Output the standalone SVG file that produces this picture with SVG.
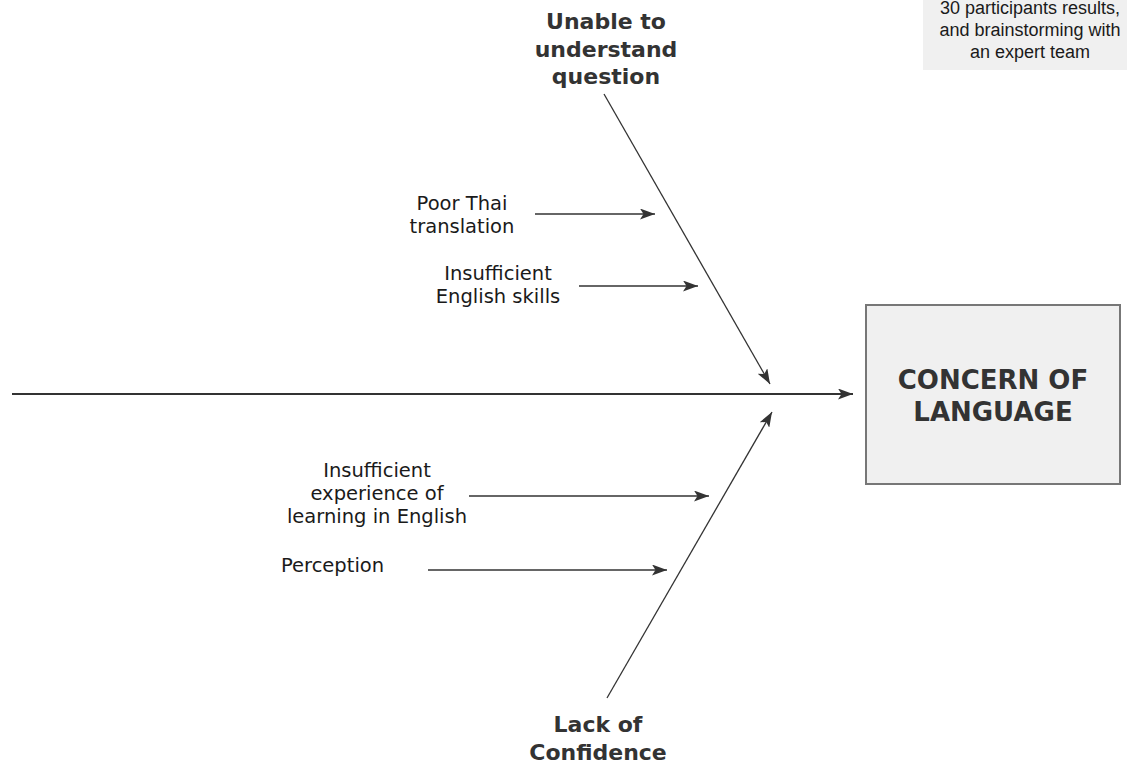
<svg xmlns="http://www.w3.org/2000/svg" width="1127" height="763" viewBox="0 0 1127 763">
<style>
.t{font-family:"DejaVu Sans",Verdana,sans-serif;font-size:19.5px;fill:#1a1a1a;text-anchor:middle}
.b{font-family:"DejaVu Sans",Verdana,sans-serif;font-size:22px;font-weight:bold;fill:#333;text-anchor:middle}
.n{font-family:"Liberation Sans",Arial,sans-serif;font-size:18px;fill:#1a1a1a;text-anchor:middle}
.c{stroke:#333;stroke-width:1.3;fill:none}
</style>
<defs>
<marker id="ah" viewBox="0 0 15 11" refX="15" refY="5.5" markerWidth="15" markerHeight="11" markerUnits="userSpaceOnUse" orient="auto">
<path d="M0,0 L15,5.5 L0,11 L3.5,5.5 z" fill="#333"/>
</marker>
</defs>
<g id="note">
<rect x="923" y="0" width="204" height="70" fill="#f0f0f0"/>
<text class="n" x="1030" y="14">30 participants results,</text>
<text class="n" x="1030" y="36">and brainstorming with</text>
<text class="n" x="1030" y="58">an expert team</text>
</g>
<g id="effect">
<rect x="866" y="305" width="254" height="179" fill="#f0f0f0" stroke="#777" stroke-width="2"/>
<text class="b" x="993" y="389" style="font-size:26px">CONCERN OF</text>
<text class="b" x="993" y="421" style="font-size:26px">LANGUAGE</text>
</g>
<g id="cause-top">
<text class="b" x="606" y="29">Unable to</text>
<text class="b" x="606" y="57">understand</text>
<text class="b" x="606" y="84">question</text>
</g>
<g id="cause-bottom">
<text class="b" x="598" y="732">Lack of</text>
<text class="b" x="598" y="760">Confidence</text>
</g>
<g id="poor-thai">
<text class="t" x="462" y="210">Poor Thai</text>
<text class="t" x="462" y="233">translation</text>
</g>
<g id="english-skills">
<text class="t" x="498" y="280">Insufficient</text>
<text class="t" x="498" y="303">English skills</text>
</g>
<g id="experience">
<text class="t" x="377" y="477">Insufficient</text>
<text class="t" x="377" y="500">experience of</text>
<text class="t" x="377" y="523">learning in English</text>
</g>
<g id="perception">
<text class="t" x="281" y="572" style="text-anchor:start">Perception</text>
</g>
<g id="connectors">
<line x1="12" y1="394" x2="853" y2="394" stroke="#333" stroke-width="2" marker-end="url(#ah)"/>
<line class="c" x1="604" y1="94" x2="770" y2="384" marker-end="url(#ah)"/>
<line class="c" x1="607" y1="698" x2="772" y2="412" marker-end="url(#ah)"/>
<line class="c" x1="535" y1="214" x2="655" y2="214" marker-end="url(#ah)"/>
<line class="c" x1="579" y1="286" x2="698" y2="286" marker-end="url(#ah)"/>
<line class="c" x1="469" y1="496" x2="709" y2="496" marker-end="url(#ah)"/>
<line class="c" x1="428" y1="570" x2="667" y2="570" marker-end="url(#ah)"/>
</g>
</svg>
